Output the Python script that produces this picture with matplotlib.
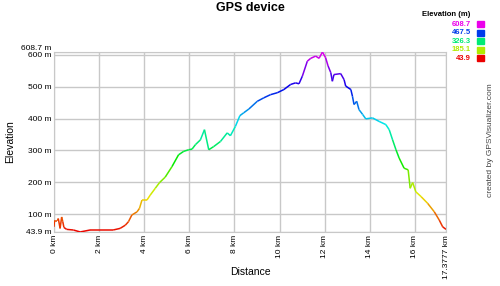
import numpy as np
import matplotlib
matplotlib.use("Agg")
from matplotlib import pyplot as plt
from matplotlib.collections import LineCollection
from matplotlib.colors import hsv_to_rgb

plt.rcParams['font.family'] = ['Liberation Sans', 'DejaVu Sans']

# elevation profile (km, m)
dist_km = [0.0, 0.02, 0.15, 0.19, 0.27, 0.34, 0.39, 0.44, 0.56, 0.86, 1.16,
           1.6, 2.04, 2.62, 2.93, 3.16, 3.3, 3.45, 3.68, 3.79, 3.9, 4.12,
           4.27, 4.49, 4.68, 4.93, 5.23, 5.52, 5.75, 5.97, 6.12, 6.27, 6.49,
           6.67, 6.86, 7.08, 7.38, 7.68, 7.82, 8.04, 8.24, 8.41, 8.64, 9.01,
           9.3, 9.6, 9.9, 10.19, 10.49, 10.71, 10.86, 11.01, 11.23, 11.38,
           11.6, 11.75, 11.9, 12.04, 12.15, 12.27, 12.34, 12.41, 12.71, 12.86,
           12.93, 13.16, 13.23, 13.3, 13.42, 13.52, 13.68, 13.82, 14.12, 14.41,
           14.71, 14.86, 15.01, 15.16, 15.3, 15.52, 15.7, 15.79, 15.9, 16.04,
           16.27, 16.56, 16.86, 17.08, 17.23, 17.3777]
elev_m = [60, 79, 79, 86, 55, 91, 76, 58, 52, 50, 43.9,
          50, 50, 50, 55, 65, 76, 97, 107, 118, 144, 144,
          160, 181, 199, 216, 249, 286, 297, 302, 304, 318, 333,
          365, 302, 312, 328, 355, 346, 375, 409, 418, 430, 454,
          465, 475, 481, 491, 507, 512, 509, 533, 580, 589,
          596, 589, 608.7, 591, 565, 544, 517, 538, 541, 522,
          502, 491, 470, 444, 454, 428, 413, 399, 402, 391,
          381, 365, 333, 302, 276, 244, 239, 181, 199, 170,
          155, 134, 107, 81, 60, 52]

emin, emax = 43.9, 608.7
legend_vals = [608.7, 467.5, 326.3, 185.1, 43.9]
x_ticks = [0, 2, 4, 6, 8, 10, 12, 14, 16, 17.3777]
y_ticks = [43.9, 100, 200, 300, 400, 500, 600, 608.7]


def elev_color(e):
    h = (e - emin) / (emax - emin) * 300.0 / 360.0
    return hsv_to_rgb([h, 1.0, 0.92])


fig = plt.figure(figsize=(5, 2.86), dpi=100)
ax = fig.add_axes([0.108, 0.189, 0.784, 0.629])

x = np.array(dist_km)
y = np.array(elev_m)
segs = np.stack([np.column_stack([x[:-1], y[:-1]]),
                 np.column_stack([x[1:], y[1:]])], axis=1)
cols = [elev_color((a + b) / 2) for a, b in zip(y[:-1], y[1:])]
ax.add_collection(LineCollection(segs, colors=cols, linewidths=1.1, zorder=3))

ax.set_xlim(0, 17.3777)
ax.set_ylim(emin, emax)
ax.set_xticks(x_ticks)
ax.set_xticklabels(['%g km' % t for t in x_ticks], rotation=90, fontsize=6)
ax.set_yticks(y_ticks)
ax.set_yticklabels(['%g m' % t for t in y_ticks], fontsize=6)
ax.get_yticklabels()[-1].set_verticalalignment('bottom')
ax.tick_params(length=0, pad=2)
ax.grid(True, color='#c8c8c8', linewidth=1)
ax.set_axisbelow(True)
for s in ax.spines.values():
    s.set_color('#c8c8c8')

ax.set_xlabel('Distance', fontsize=7.5, va='center')
ax.set_ylabel('Elevation', fontsize=7.5, va='center')
ax.xaxis.set_label_coords(0.5, -0.222)
ax.yaxis.set_label_coords(-0.112, 0.5)

fig.text(0.5, 0.972, 'GPS device', ha='center', va='center',
         fontsize=9, fontweight='bold')

# legend on the top right
fig.text(0.892, 0.948, 'Elevation (m)', ha='center', va='center',
         fontsize=5.5, fontweight='bold')
for i, v in enumerate(legend_vals):
    yy = 1 - (24.3 + 8.5 * i) / 286
    c = elev_color(v)
    fig.text(0.942, yy, '%g' % v, ha='right', va='center', fontsize=5.5,
             color=c, fontweight='bold')
    fig.patches.append(plt.Rectangle((0.954, yy - 0.0105), 0.013, 0.021,
                                     transform=fig.transFigure, color=c))

fig.text(0.98, 0.51, 'created by GPSVisualizer.com', rotation=90,
         ha='center', va='center', fontsize=6, color='#444444')

fig.savefig('out.png', dpi=100)
